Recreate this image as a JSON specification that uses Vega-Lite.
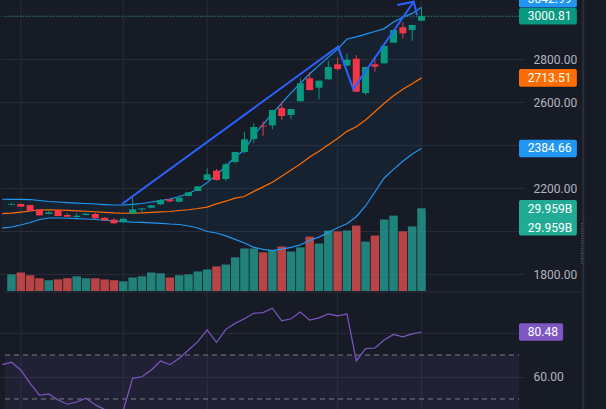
{
  "$schema": "https://vega.github.io/schema/vega-lite/v6.json",
  "width": 524,
  "height": 409,
  "autosize": {"type": "none"},
  "padding": {"left": 0, "top": 0, "right": 82, "bottom": 0},
  "background": "#171b26",
  "config": {
    "view": {"stroke": null},
    "font": "Roboto",
    "axis": {"domain": false, "ticks": false, "tickSize": 0, "gridColor": "#262b38", "gridWidth": 1, "labelColor": "#b2b5be", "labelFontSize": 12, "labelFont": "Roboto"}
  },
  "datasets": {
    "bars": [
      {"i":-1,"upper":2148.3,"lower":2013.5,"basis":2080.9,"rsi":65.6},
      {"i":0,"open":2121.3,"high":2132.0,"low":2119.9,"close":2124.6,"vol":6.0,"upper":2147.9,"lower":2018.8,"basis":2083.4,"rsi":66.7},
      {"i":1,"open":2126.0,"high":2128.3,"low":2112.0,"close":2113.4,"vol":6.7,"upper":2147.9,"lower":2028.1,"basis":2088.0,"rsi":63.2},
      {"i":2,"open":2121.3,"high":2123.0,"low":2093.0,"close":2094.8,"vol":5.7,"upper":2146.9,"lower":2039.8,"basis":2093.4,"rsi":57.1},
      {"i":3,"open":2101.3,"high":2102.5,"low":2072.0,"close":2073.3,"vol":4.6,"upper":2142.3,"lower":2053.8,"basis":2098.1,"rsi":51.7},
      {"i":4,"open":2079.4,"high":2094.8,"low":2078.0,"close":2087.3,"vol":3.9,"upper":2137.6,"lower":2060.8,"basis":2099.2,"rsi":52.3},
      {"i":5,"open":2098.0,"high":2099.0,"low":2069.0,"close":2070.1,"vol":4.2,"upper":2135.3,"lower":2060.8,"basis":2098.1,"rsi":49.5},
      {"i":6,"open":2074.7,"high":2082.6,"low":2066.0,"close":2066.8,"vol":4.6,"upper":2132.9,"lower":2059.8,"basis":2096.4,"rsi":47.6},
      {"i":7,"open":2065.4,"high":2082.6,"low":2062.1,"close":2071.5,"vol":5.3,"upper":2130.6,"lower":2058.4,"basis":2094.5,"rsi":48.6},
      {"i":8,"open":2074.7,"high":2085.4,"low":2073.0,"close":2080.8,"vol":4.6,"upper":2128.3,"lower":2056.1,"basis":2092.2,"rsi":50.4},
      {"i":9,"open":2079.4,"high":2085.4,"low":2057.5,"close":2059.3,"vol":4.6,"upper":2126.0,"lower":2053.8,"basis":2089.9,"rsi":47.3},
      {"i":10,"open":2062.1,"high":2063.0,"low":2049.0,"close":2050.0,"vol":4.2,"upper":2123.6,"lower":2050.5,"basis":2087.1,"rsi":45.2},
      {"i":11,"open":2052.8,"high":2060.8,"low":2034.2,"close":2036.1,"vol":3.9,"upper":2121.3,"lower":2047.7,"basis":2084.5,"rsi":42.0},
      {"i":12,"open":2040.7,"high":2058.5,"low":2039.5,"close":2057.5,"vol":3.5,"upper":2121.3,"lower":2044.5,"basis":2082.9,"rsi":44.8},
      {"i":13,"open":2082.6,"high":2163.2,"low":2082.0,"close":2101.3,"vol":4.9,"upper":2124.6,"lower":2042.1,"basis":2083.4,"rsi":59.4},
      {"i":14,"open":2101.3,"high":2106.5,"low":2085.4,"close":2106.0,"vol":5.3,"upper":2128.3,"lower":2040.7,"basis":2084.5,"rsi":60.1},
      {"i":15,"open":2108.8,"high":2121.0,"low":2108.0,"close":2120.0,"vol":6.7,"upper":2135.3,"lower":2038.4,"basis":2086.9,"rsi":63.2},
      {"i":16,"open":2124.6,"high":2149.3,"low":2121.3,"close":2144.6,"vol":6.4,"upper":2142.3,"lower":2036.1,"basis":2089.2,"rsi":67.3},
      {"i":17,"open":2147.9,"high":2149.3,"low":2133.9,"close":2138.5,"vol":4.9,"upper":2149.3,"lower":2032.8,"basis":2091.1,"rsi":65.6},
      {"i":18,"open":2136.7,"high":2160.0,"low":2133.9,"close":2155.3,"vol":5.7,"upper":2160.9,"lower":2030.5,"basis":2095.7,"rsi":68.5},
      {"i":19,"open":2163.2,"high":2181.5,"low":2162.0,"close":2180.5,"vol":6.0,"upper":2174.9,"lower":2023.5,"basis":2099.2,"rsi":72.3},
      {"i":20,"open":2186.5,"high":2209.0,"low":2186.0,"close":2208.4,"vol":7.1,"upper":2195.8,"lower":2014.2,"basis":2105.0,"rsi":76.1},
      {"i":21,"open":2237.8,"high":2292.2,"low":2237.0,"close":2264.3,"vol":7.8,"upper":2225.6,"lower":1997.9,"basis":2111.8,"rsi":81.4},
      {"i":22,"open":2281.1,"high":2289.0,"low":2234.5,"close":2237.8,"vol":8.9,"upper":2262.9,"lower":1990.9,"basis":2126.9,"rsi":75.8},
      {"i":23,"open":2242.4,"high":2318.3,"low":2234.5,"close":2310.9,"vol":9.6,"upper":2300.7,"lower":1977.4,"basis":2139.1,"rsi":81.7},
      {"i":24,"open":2321.6,"high":2370.0,"low":2315.5,"close":2368.2,"vol":12.2,"upper":2344.9,"lower":1961.5,"basis":2153.2,"rsi":84.4},
      {"i":25,"open":2368.2,"high":2462.8,"low":2362.1,"close":2427.3,"vol":15.4,"upper":2377.5,"lower":1944.3,"basis":2160.9,"rsi":86.5},
      {"i":26,"open":2428.8,"high":2501.9,"low":2411.5,"close":2484.6,"vol":15.4,"upper":2445.5,"lower":1924.3,"basis":2184.9,"rsi":89.0},
      {"i":27,"open":2490.7,"high":2509.3,"low":2444.1,"close":2487.0,"vol":14.0,"upper":2496.7,"lower":1915.0,"basis":2205.9,"rsi":89.3},
      {"i":28,"open":2492.5,"high":2565.0,"low":2474.0,"close":2563.8,"vol":14.7,"upper":2546.6,"lower":1908.5,"basis":2227.6,"rsi":91.3},
      {"i":29,"open":2573.1,"high":2602.5,"low":2517.2,"close":2535.9,"vol":16.1,"upper":2596.0,"lower":1915.5,"basis":2255.8,"rsi":85.6},
      {"i":30,"open":2540.5,"high":2569.0,"low":2520.5,"close":2568.5,"vol":14.3,"upper":2643.9,"lower":1924.3,"basis":2284.1,"rsi":86.5},
      {"i":31,"open":2604.4,"high":2711.5,"low":2603.0,"close":2688.2,"vol":15.8,"upper":2688.2,"lower":1935.9,"basis":2312.1,"rsi":89.6},
      {"i":32,"open":2711.5,"high":2739.4,"low":2655.0,"close":2657.0,"vol":19.7,"upper":2732.9,"lower":1956.0,"basis":2344.5,"rsi":85.9},
      {"i":33,"open":2667.7,"high":2701.0,"low":2613.7,"close":2700.3,"vol":17.2,"upper":2771.5,"lower":1971.8,"basis":2371.7,"rsi":86.9},
      {"i":34,"open":2706.8,"high":2792.1,"low":2705.0,"close":2764.1,"vol":21.9,"upper":2810.2,"lower":1993.7,"basis":2402.0,"rsi":88.7},
      {"i":35,"open":2776.7,"high":2807.4,"low":2746.9,"close":2754.8,"vol":21.6,"upper":2847.5,"lower":2015.6,"basis":2431.6,"rsi":87.8},
      {"i":36,"open":2770.2,"high":2827.9,"low":2769.0,"close":2798.1,"vol":21.9,"upper":2894.5,"lower":2034.2,"basis":2464.4,"rsi":88.7},
      {"i":37,"open":2802.8,"high":2820.0,"low":2648.0,"close":2649.1,"vol":23.7,"upper":2904.8,"lower":2066.8,"basis":2485.8,"rsi":67.4},
      {"i":38,"open":2643.0,"high":2765.0,"low":2635.1,"close":2764.1,"vol":17.9,"upper":2917.4,"lower":2116.7,"basis":2517.1,"rsi":72.9},
      {"i":39,"open":2776.7,"high":2812.1,"low":2742.2,"close":2765.5,"vol":20.1,"upper":2929.5,"lower":2181.9,"basis":2555.7,"rsi":73.2},
      {"i":40,"open":2781.4,"high":2864.0,"low":2780.0,"close":2862.5,"vol":25.9,"upper":2943.0,"lower":2247.1,"basis":2595.1,"rsi":76.8},
      {"i":41,"open":2877.3,"high":2938.0,"low":2876.0,"close":2936.5,"vol":27.3,"upper":2973.7,"lower":2287.1,"basis":2630.4,"rsi":79.4},
      {"i":42,"open":2949.0,"high":2972.3,"low":2897.8,"close":2921.1,"vol":21.6,"upper":2995.6,"lower":2325.3,"basis":2660.5,"rsi":78.3},
      {"i":43,"open":2936.5,"high":2961.0,"low":2886.6,"close":2959.8,"vol":23.4,"upper":3013.8,"lower":2358.9,"basis":2686.4,"rsi":79.6},
      {"i":44,"open":2979.8,"high":3037.5,"low":2979.0,"close":3000.81,"vol":29.959,"upper":3042.99,"lower":2384.66,"basis":2713.51,"rsi":80.48}
    ],
    "drawing": [
      {"seg":"a","ord":0,"i":11.86,"price":2126.0},
      {"seg":"a","ord":1,"i":35.04,"price":2858.7},
      {"seg":"a","ord":2,"i":36.67,"price":2661.6},
      {"seg":"a","ord":3,"i":43.17,"price":3068.3},
      {"seg":"b","ord":0,"i":41.41,"price":3052.9},
      {"seg":"b","ord":1,"i":43.17,"price":3068.3},
      {"seg":"b","ord":2,"i":43.52,"price":3006.3}
    ]
  },
  "data": {"name": "bars"},
  "encoding": {
    "x": {"field": "i", "type": "quantitative", "title": null,
      "scale": {"domain": [-0.6947, 54.463], "nice": false, "zero": false},
      "axis": {"orient": "bottom", "labels": false, "grid": false, "ticks": false, "domain": false}}
  },
  "layer": [
    {
      "layer": [
        {
          "transform": [{"filter": "indexof([1, 12, 21, 35, 44], datum.i) >= 0"}],
          "mark": {"type": "rule", "color": "#262b38", "strokeWidth": 1},
          "encoding": {}
        },
        {
          "transform": [{"filter": "isValid(datum.open)"}],
          "mark": {"type": "bar", "orient": "vertical", "width": 8.5, "opacity": 0.75},
          "encoding": {
            "y": {"field": "vol", "type": "quantitative", "title": null, "scale": {"domain": [0, 105.4], "range": [291, 0], "nice": false, "zero": true}, "axis": null},
            "color": {"condition": {"test": "datum.close >= datum.open", "value": "#26a69a"}, "value": "#ef5350"}
          }
        },
        {
          "transform": [{"filter": "datum.i == 44"}],
          "mark": {"type": "rect", "color": "#22ab94", "cornerRadius": 2, "yOffset": -8.3, "y2Offset": 27.2},
          "encoding": {"x": {"datum": 54.463}, "x2": {"datum": 60.674}, "y": {"field": "vol", "type": "quantitative", "title": null}, "y2": {"field": "vol"}}
        },
        {
          "transform": [{"filter": "datum.i == 44"}],
          "mark": {"type": "text", "align": "left", "baseline": "middle", "color": "#ffffff", "fontSize": 12, "yOffset": 1, "text": {"expr": "format(datum.vol, '.3f') + 'B'"}},
          "encoding": {"x": {"datum": 55.41}, "y": {"field": "vol", "type": "quantitative", "title": null}}
        },
        {
          "transform": [{"filter": "datum.i == 44"}],
          "mark": {"type": "text", "align": "left", "baseline": "middle", "color": "#ffffff", "fontSize": 12, "yOffset": 19.4, "text": {"expr": "format(datum.vol, '.3f') + 'B'"}},
          "encoding": {"x": {"datum": 55.41}, "y": {"field": "vol", "type": "quantitative", "title": null}}
        }
      ]
    },
    {
      "layer": [
        {
          "mark": {"type": "area", "color": "#2196f3", "opacity": 0.06},
          "encoding": {
            "y": {"field": "upper", "type": "quantitative", "title": null,
              "scale": {"domain": [1716.2, 3076.2], "range": [292, 0], "nice": false, "zero": false},
              "axis": {"orient": "right", "values": [1800, 2000, 2200, 2400, 2600, 2800, 3000], "format": ".2f", "grid": true, "labelPadding": 9,
                "labelExpr": "(datum.value == 1800 || datum.value == 2200 || datum.value == 2600 || datum.value == 2800) ? datum.label : ''"}},
            "y2": {"field": "lower"}
          }
        },
        {"mark": {"type": "line", "color": "#2196f3", "strokeWidth": 1.2}, "encoding": {"y": {"field": "upper", "type": "quantitative", "title": null}}},
        {"mark": {"type": "line", "color": "#2196f3", "strokeWidth": 1.2}, "encoding": {"y": {"field": "lower", "type": "quantitative", "title": null}}},
        {"mark": {"type": "line", "color": "#ff6d00", "strokeWidth": 1.2}, "encoding": {"y": {"field": "basis", "type": "quantitative", "title": null}}},
        {
          "transform": [{"filter": "datum.i == 44"}],
          "mark": {"type": "rule", "color": "#089981", "strokeDash": [1, 2], "strokeWidth": 1},
          "encoding": {"x": {"datum": -0.6947}, "x2": {"datum": 54.463}, "y": {"field": "close", "type": "quantitative", "title": null}}
        },
        {
          "transform": [{"filter": "isValid(datum.open)"}],
          "mark": {"type": "rule", "strokeWidth": 1},
          "encoding": {
            "y": {"field": "low", "type": "quantitative", "title": null}, "y2": {"field": "high"},
            "color": {"condition": {"test": "datum.close >= datum.open", "value": "#089981"}, "value": "#f23645"}
          }
        },
        {
          "transform": [{"filter": "isValid(datum.open)"}],
          "mark": {"type": "bar", "orient": "vertical", "width": 7},
          "encoding": {
            "y": {"field": "open", "type": "quantitative", "title": null}, "y2": {"field": "close"},
            "color": {"condition": {"test": "datum.close >= datum.open", "value": "#089981"}, "value": "#f23645"}
          }
        },
        {
          "data": {"name": "drawing"},
          "mark": {"type": "line", "color": "#2962ff", "strokeWidth": 2},
          "encoding": {
            "y": {"field": "price", "type": "quantitative", "title": null},
            "detail": {"field": "seg"},
            "order": {"field": "ord", "type": "quantitative"}
          }
        },
        {
          "transform": [{"filter": "datum.i == 44"}],
          "mark": {"type": "rect", "color": "#2196f3", "cornerRadius": 2, "yOffset": -16.6, "y2Offset": 0.4},
          "encoding": {"x": {"datum": 54.463}, "x2": {"datum": 60.674}, "y": {"field": "upper", "type": "quantitative", "title": null}, "y2": {"field": "upper"}}
        },
        {
          "transform": [{"filter": "datum.i == 44"}],
          "mark": {"type": "text", "align": "left", "baseline": "middle", "color": "#ffffff", "fontSize": 12, "yOffset": -8.1},
          "encoding": {"x": {"datum": 55.41}, "y": {"field": "upper", "type": "quantitative", "title": null}, "text": {"field": "upper", "format": ".2f"}}
        },
        {
          "transform": [{"filter": "datum.i == 44"}],
          "mark": {"type": "rect", "color": "#089981", "cornerRadius": 2, "yOffset": -8.3, "y2Offset": 8.3},
          "encoding": {"x": {"datum": 54.463}, "x2": {"datum": 60.674}, "y": {"field": "close", "type": "quantitative", "title": null}, "y2": {"field": "close"}}
        },
        {
          "transform": [{"filter": "datum.i == 44"}],
          "mark": {"type": "text", "align": "left", "baseline": "middle", "color": "#ffffff", "fontSize": 12},
          "encoding": {"x": {"datum": 55.41}, "y": {"field": "close", "type": "quantitative", "title": null}, "text": {"field": "close", "format": ".2f"}}
        },
        {
          "transform": [{"filter": "datum.i == 44"}],
          "mark": {"type": "rect", "color": "#ff6d00", "cornerRadius": 2, "yOffset": -8.8, "y2Offset": 8.8},
          "encoding": {"x": {"datum": 54.463}, "x2": {"datum": 60.674}, "y": {"field": "basis", "type": "quantitative", "title": null}, "y2": {"field": "basis"}}
        },
        {
          "transform": [{"filter": "datum.i == 44"}],
          "mark": {"type": "text", "align": "left", "baseline": "middle", "color": "#ffffff", "fontSize": 12},
          "encoding": {"x": {"datum": 55.41}, "y": {"field": "basis", "type": "quantitative", "title": null}, "text": {"field": "basis", "format": ".2f"}}
        },
        {
          "transform": [{"filter": "datum.i == 44"}],
          "mark": {"type": "rect", "color": "#2196f3", "cornerRadius": 2, "yOffset": -8.7, "y2Offset": 8.7},
          "encoding": {"x": {"datum": 54.463}, "x2": {"datum": 60.674}, "y": {"field": "lower", "type": "quantitative", "title": null}, "y2": {"field": "lower"}}
        },
        {
          "transform": [{"filter": "datum.i == 44"}],
          "mark": {"type": "text", "align": "left", "baseline": "middle", "color": "#ffffff", "fontSize": 12},
          "encoding": {"x": {"datum": 55.41}, "y": {"field": "lower", "type": "quantitative", "title": null}, "text": {"field": "lower", "format": ".2f"}}
        },
        {
          "transform": [{"filter": "datum.i == 44"}],
          "mark": {"type": "rule", "color": "#6a6e7a", "strokeWidth": 3, "strokeDash": [1, 1.5]},
          "encoding": {"x": {"datum": 61.3}, "y": {"datum": 2037.5, "type": "quantitative"}, "y2": {"datum": 1841.8}}
        }
      ]
    },
    {
      "layer": [
        {
          "transform": [{"filter": "datum.i == 44"}],
          "mark": {"type": "rect", "color": "#7e57c2", "opacity": 0.1},
          "encoding": {
            "x": {"datum": -0.6947}, "x2": {"datum": 54.463},
            "y": {"datum": 70, "type": "quantitative", "title": null,
              "scale": {"domain": [45.43, 98.69], "range": [409, 292], "nice": false, "zero": false},
              "axis": {"orient": "right", "values": [60, 80], "format": ".2f", "grid": true, "labelPadding": 9, "labelExpr": "datum.value == 60 ? datum.label : ''"}},
            "y2": {"datum": 30}
          }
        },
        {
          "transform": [{"filter": "datum.i == 44"}],
          "mark": {"type": "rule", "color": "#787b86", "strokeDash": [5, 4], "strokeWidth": 1},
          "encoding": {"x": {"datum": -0.6947}, "x2": {"datum": 54.463}, "y": {"datum": 70, "type": "quantitative"}}
        },
        {
          "transform": [{"filter": "datum.i == 44"}],
          "mark": {"type": "rule", "color": "#787b86", "strokeDash": [5, 4], "strokeWidth": 1},
          "encoding": {"x": {"datum": -0.6947}, "x2": {"datum": 54.463}, "y": {"datum": 50, "type": "quantitative"}}
        },
        {
          "mark": {"type": "line", "color": "#7e57c2", "strokeWidth": 1.2},
          "encoding": {"y": {"field": "rsi", "type": "quantitative", "title": null}}
        },
        {
          "transform": [{"filter": "datum.i == 44"}],
          "mark": {"type": "rect", "color": "#7e57c2", "cornerRadius": 2, "yOffset": -8.8, "y2Offset": 8.8},
          "encoding": {"x": {"datum": 54.463}, "x2": {"datum": 59.2}, "y": {"field": "rsi", "type": "quantitative", "title": null}, "y2": {"field": "rsi"}}
        },
        {
          "transform": [{"filter": "datum.i == 44"}],
          "mark": {"type": "text", "align": "left", "baseline": "middle", "color": "#ffffff", "fontSize": 12},
          "encoding": {"x": {"datum": 55.41}, "y": {"field": "rsi", "type": "quantitative", "title": null}, "text": {"field": "rsi", "format": ".2f"}}
        },
        {
          "transform": [{"filter": "datum.i == 44"}],
          "mark": {"type": "rule", "color": "#2a2e39", "strokeWidth": 1},
          "encoding": {"x": {"datum": -0.6947}, "x2": {"datum": 61.2}, "y": {"datum": 98.69, "type": "quantitative"}}
        },
        {
          "transform": [{"filter": "datum.i == 44"}],
          "mark": {"type": "rule", "color": "#2a2e39", "strokeWidth": 2},
          "encoding": {"x": {"datum": 61.36}}
        }
      ]
    }
  ],
  "resolve": {"scale": {"y": "independent"}}
}
